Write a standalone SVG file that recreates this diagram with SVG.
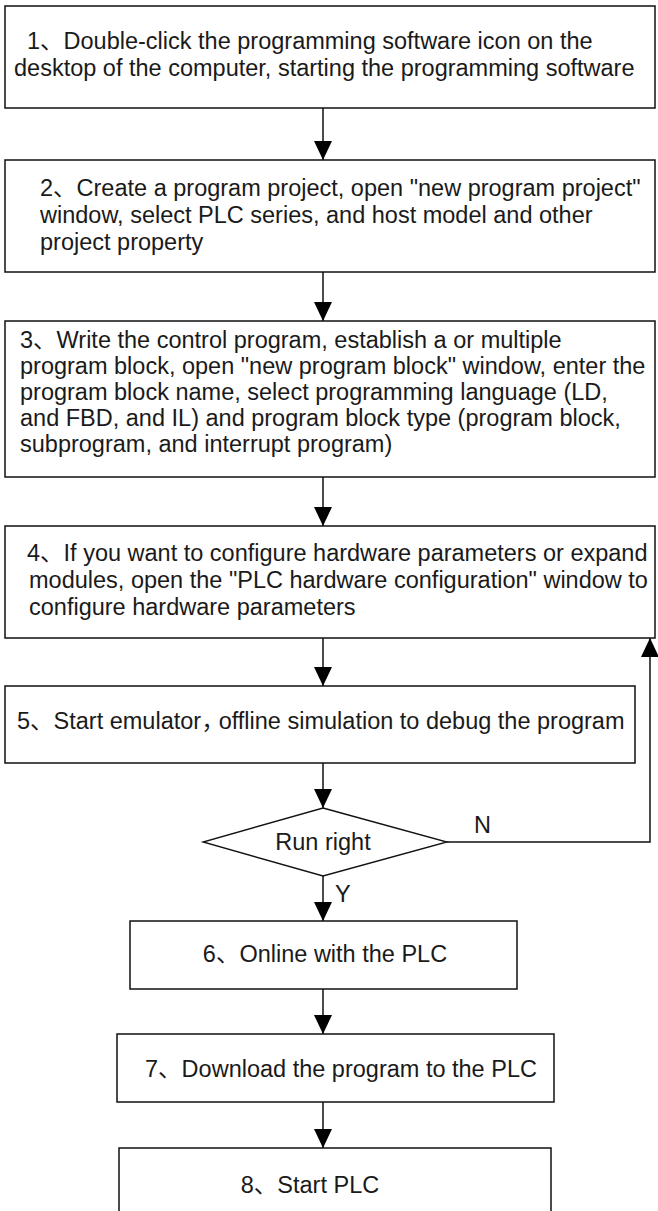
<svg xmlns="http://www.w3.org/2000/svg" width="658" height="1211" viewBox="0 0 658 1211">
  <style>
    .box { fill: #fff; stroke: #111; stroke-width: 1.5; }
    .dia { fill: #fff; stroke: #111; stroke-width: 1.3; }
    .t { font-family: "Liberation Sans", "Noto Sans CJK SC", sans-serif; font-size: 23.5px; fill: #1a1a1a; }
    .c { text-anchor: middle; }
    .ln { fill: none; stroke: #111; stroke-width: 1.5; }
  </style>
  <defs>
    <!-- filled triangular arrowhead, tip at the end of the line -->
    <marker id="ah" markerUnits="userSpaceOnUse" markerWidth="19" markerHeight="18" viewBox="0 0 19 18" refX="19" refY="9" orient="auto">
      <path d="M0 0 L19 9 L0 18 Z" fill="#000"/>
    </marker>
  </defs>
  <rect width="658" height="1211" fill="#fff"/>

  <g id="connectors">
    <line class="ln" x1="323" y1="108" x2="323" y2="160" marker-end="url(#ah)"/>
    <line class="ln" x1="323" y1="272" x2="323" y2="321" marker-end="url(#ah)"/>
    <line class="ln" x1="323" y1="477" x2="323" y2="526" marker-end="url(#ah)"/>
    <line class="ln" x1="323" y1="638" x2="323" y2="686" marker-end="url(#ah)"/>
    <line class="ln" x1="323" y1="763" x2="323" y2="808" marker-end="url(#ah)"/>
    <line class="ln" x1="323" y1="876" x2="323" y2="921" marker-end="url(#ah)"/>
    <line class="ln" x1="323" y1="989" x2="323" y2="1034" marker-end="url(#ah)"/>
    <line class="ln" x1="323" y1="1102" x2="323" y2="1148" marker-end="url(#ah)"/>
    <!-- "N" branch: back up to step 4 -->
    <polyline class="ln" points="447,842 650,842 650,638" marker-end="url(#ah)"/>
    <text class="t" x="474" y="833">N</text>
    <text class="t" x="335" y="902">Y</text>
  </g>

  <g id="step1">
    <rect class="box" x="5" y="6" width="650" height="102"/>
    <text class="t" x="27" y="49">1、Double-click the programming software icon on the</text>
    <text class="t" x="14" y="76">desktop of the computer, starting the programming software</text>
  </g>

  <g id="step2">
    <rect class="box" x="5" y="160" width="650" height="112"/>
    <text class="t" x="40" y="196">2、Create a program project, open "new program project"</text>
    <text class="t" x="40" y="223">window, select PLC series, and host model and other</text>
    <text class="t" x="40" y="250">project property</text>
  </g>

  <g id="step3">
    <rect class="box" x="5" y="321" width="650" height="156"/>
    <text class="t" x="20" y="348">3、Write the control program, establish a or multiple</text>
    <text class="t" x="20" y="374">program block, open "new program block" window, enter the</text>
    <text class="t" x="20" y="400">program block name, select programming language (LD,</text>
    <text class="t" x="20" y="426">and FBD, and IL) and program block type (program block,</text>
    <text class="t" x="20" y="452">subprogram, and interrupt program)</text>
  </g>

  <g id="step4">
    <rect class="box" x="5" y="526" width="650" height="112"/>
    <text class="t" x="27" y="561">4、If you want to configure hardware parameters or expand</text>
    <text class="t" x="29" y="588">modules, open the "PLC hardware configuration" window to</text>
    <text class="t" x="29" y="615">configure hardware parameters</text>
  </g>

  <g id="step5">
    <rect class="box" x="5" y="686" width="630" height="77"/>
    <text class="t" x="17" y="729">5、Start emulator，<tspan dx="-6">offline simulation to debug the program</tspan></text>
  </g>

  <g id="decision">
    <polygon class="dia" points="323,808 447,842 323,876 203,842"/>
    <text class="t c" x="323" y="850">Run right</text>
  </g>

  <g id="step6">
    <rect class="box" x="130" y="921" width="387" height="68"/>
    <text class="t c" x="325" y="962">6、Online with the PLC</text>
  </g>

  <g id="step7">
    <rect class="box" x="117" y="1034" width="437" height="68"/>
    <text class="t c" x="341" y="1077">7、Download the program to the PLC</text>
  </g>

  <g id="step8">
    <rect class="box" x="119" y="1148" width="432" height="80"/>
    <text class="t c" x="310" y="1193">8、Start PLC</text>
  </g>
</svg>
